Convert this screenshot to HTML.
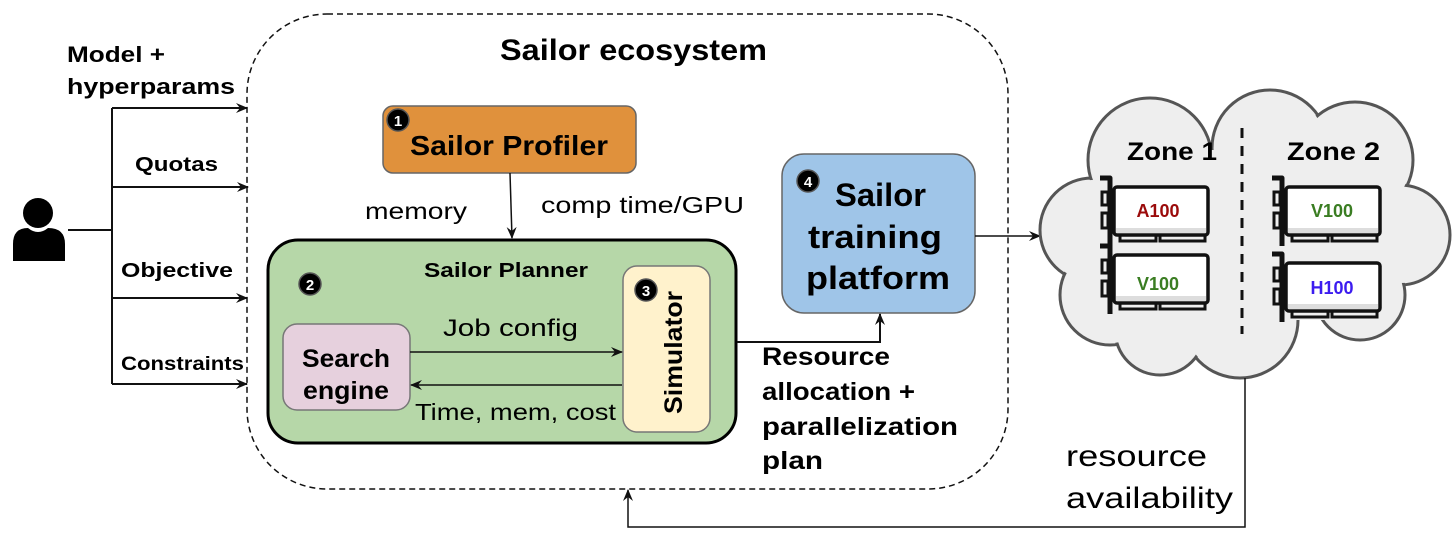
<!DOCTYPE html>
<html><head><meta charset="utf-8"><style>
html,body{margin:0;padding:0;background:#fff;}
svg{display:block;}
text{font-family:"Liberation Sans",sans-serif;}
.b{font-weight:bold;}
</style></head><body>
<svg width="1454" height="545" viewBox="0 0 1454 545" xmlns="http://www.w3.org/2000/svg">
<defs>
<marker id="ar" markerWidth="12" markerHeight="10" refX="11" refY="5" orient="auto" markerUnits="userSpaceOnUse">
<path d="M0,0 L12,5 L0,10 L4,5 Z" fill="#111"/>
</marker>
<g id="gpu">
<path d="M0,2 L10,2 L10,70" fill="none" stroke="#111" stroke-width="5" stroke-linejoin="round"/>
<rect x="2" y="16" width="6" height="13" fill="none" stroke="#111" stroke-width="3"/>
<rect x="2" y="37" width="6" height="15" fill="none" stroke="#111" stroke-width="3"/>
<rect x="14" y="11" width="94" height="48" rx="3" fill="#fff" stroke="#111" stroke-width="3.5"/>
<rect x="16" y="52" width="90" height="5" fill="#ddd"/>
<rect x="20" y="59" width="36" height="6" fill="none" stroke="#111" stroke-width="3"/>
<rect x="60" y="59" width="45" height="6" fill="none" stroke="#111" stroke-width="3"/>
</g>
</defs>

<rect x="247" y="14" width="761" height="475" rx="80" fill="none" stroke="#111" stroke-width="1.5" stroke-dasharray="6,4"/>
<text x="500" y="60" class="b" font-size="30" textLength="267" lengthAdjust="spacingAndGlyphs">Sailor ecosystem</text>

<circle cx="38" cy="213" r="15" fill="#000"/>
<path d="M13,261 L13,244 Q13,228 28,228 Q38,236 48,228 Q65,228 65,244 L65,261 Z" fill="#000"/>
<path d="M68,230 L112,230 M112,108 L112,384" stroke="#111" stroke-width="2" fill="none"/>
<g stroke="#111" stroke-width="2" marker-end="url(#ar)">
<line x1="112" y1="108" x2="247" y2="108"/>
<line x1="112" y1="187" x2="248" y2="187"/>
<line x1="112" y1="298" x2="247" y2="298"/>
<line x1="112" y1="384" x2="247" y2="384"/>
</g>
<text x="67" y="62" class="b" font-size="22" textLength="98" lengthAdjust="spacingAndGlyphs">Model +</text>
<text x="67" y="94" class="b" font-size="22" textLength="168" lengthAdjust="spacingAndGlyphs">hyperparams</text>
<text x="135" y="171" class="b" font-size="20" textLength="83" lengthAdjust="spacingAndGlyphs">Quotas</text>
<text x="121" y="277" class="b" font-size="20" textLength="112" lengthAdjust="spacingAndGlyphs">Objective</text>
<text x="121" y="370" class="b" font-size="19" textLength="123" lengthAdjust="spacingAndGlyphs">Constraints</text>

<rect x="383" y="106" width="253" height="67" rx="10" fill="#e0913c" stroke="#666" stroke-width="1.5"/>
<circle cx="398" cy="120" r="11" fill="#000" stroke="#555" stroke-width="1.5"/>
<text x="398" y="126" class="b" font-size="15" fill="#fff" text-anchor="middle">1</text>
<text x="410" y="155" class="b" font-size="28" textLength="198" lengthAdjust="spacingAndGlyphs">Sailor Profiler</text>
<line x1="510" y1="173" x2="512" y2="238" stroke="#111" stroke-width="1.5" marker-end="url(#ar)"/>
<text x="365" y="219" font-size="23" textLength="102" lengthAdjust="spacingAndGlyphs">memory</text>
<text x="541" y="213" font-size="23" textLength="203" lengthAdjust="spacingAndGlyphs">comp time/GPU</text>

<rect x="268" y="240" width="468" height="203" rx="30" fill="#b6d7a8" stroke="#000" stroke-width="3"/>
<text x="424" y="277" class="b" font-size="20" textLength="164" lengthAdjust="spacingAndGlyphs">Sailor Planner</text>
<circle cx="310" cy="284" r="11" fill="#000" stroke="#555" stroke-width="1.5"/>
<text x="310" y="290" class="b" font-size="15" fill="#fff" text-anchor="middle">2</text>
<rect x="283" y="324" width="127" height="86" rx="14" fill="#e6d0dd" stroke="#777" stroke-width="1.5"/>
<text x="302" y="367" class="b" font-size="25" textLength="88" lengthAdjust="spacingAndGlyphs">Search</text>
<text x="303" y="399" class="b" font-size="25" textLength="86" lengthAdjust="spacingAndGlyphs">engine</text>
<rect x="623" y="266" width="87" height="166" rx="14" fill="#fff2cc" stroke="#777" stroke-width="1.5"/>
<circle cx="646" cy="290" r="11" fill="#000" stroke="#555" stroke-width="1.5"/>
<text x="646" y="296" class="b" font-size="15" fill="#fff" text-anchor="middle">3</text>
<text transform="translate(682,414) rotate(-90)" class="b" font-size="25" textLength="123" lengthAdjust="spacingAndGlyphs">Simulator</text>
<line x1="410" y1="352" x2="622" y2="352" stroke="#111" stroke-width="1.5" marker-end="url(#ar)"/>
<line x1="622" y1="385" x2="411" y2="385" stroke="#111" stroke-width="1.5" marker-end="url(#ar)"/>
<text x="443" y="336" font-size="24" textLength="135" lengthAdjust="spacingAndGlyphs">Job config</text>
<text x="415" y="420" font-size="23" textLength="201" lengthAdjust="spacingAndGlyphs">Time, mem, cost</text>

<rect x="782" y="154" width="193" height="159" rx="22" fill="#9fc5e8" stroke="#666" stroke-width="1.5"/>
<circle cx="808" cy="181" r="11" fill="#000" stroke="#555" stroke-width="1.5"/>
<text x="808" y="187" class="b" font-size="15" fill="#fff" text-anchor="middle">4</text>
<text x="835" y="206" class="b" font-size="32" textLength="91" lengthAdjust="spacingAndGlyphs">Sailor</text>
<text x="808" y="248" class="b" font-size="32" textLength="134" lengthAdjust="spacingAndGlyphs">training</text>
<text x="806" y="289" class="b" font-size="32" textLength="144" lengthAdjust="spacingAndGlyphs">platform</text>
<path d="M737,342 L880,342 L880,314" fill="none" stroke="#111" stroke-width="2" marker-end="url(#ar)"/>
<text x="762" y="365" class="b" font-size="25" textLength="128" lengthAdjust="spacingAndGlyphs">Resource</text>
<text x="762" y="400" class="b" font-size="25" textLength="153" lengthAdjust="spacingAndGlyphs">allocation +</text>
<text x="762" y="435" class="b" font-size="25" textLength="196" lengthAdjust="spacingAndGlyphs">parallelization</text>
<text x="762" y="469" class="b" font-size="25" textLength="61" lengthAdjust="spacingAndGlyphs">plan</text>
<line x1="975" y1="236" x2="1040" y2="236" stroke="#111" stroke-width="1.5" marker-end="url(#ar)"/>

<g fill="#eee" stroke="#555" stroke-width="3">
<circle cx="1092" cy="230" r="52"/>
<circle cx="1110" cy="295" r="50"/>
<circle cx="1150" cy="160" r="62"/>
<circle cx="1270" cy="148" r="58"/>
<circle cx="1355" cy="160" r="58"/>
<circle cx="1400" cy="235" r="50"/>
<circle cx="1360" cy="295" r="45"/>
<circle cx="1240" cy="320" r="58"/>
<circle cx="1160" cy="330" r="45"/>
</g>
<g fill="#eee">
<circle cx="1092" cy="230" r="50"/>
<circle cx="1110" cy="295" r="48"/>
<circle cx="1150" cy="160" r="60"/>
<circle cx="1270" cy="148" r="56"/>
<circle cx="1355" cy="160" r="56"/>
<circle cx="1400" cy="235" r="48"/>
<circle cx="1360" cy="295" r="43"/>
<circle cx="1240" cy="320" r="56"/>
<circle cx="1160" cy="330" r="43"/>
<rect x="1100" y="150" width="290" height="170"/>
</g>
<line x1="1242" y1="128" x2="1242" y2="334" stroke="#111" stroke-width="3" stroke-dasharray="10,8"/>
<text x="1127" y="160" class="b" font-size="25" textLength="90" lengthAdjust="spacingAndGlyphs">Zone 1</text>
<text x="1287" y="160" class="b" font-size="25" textLength="93" lengthAdjust="spacingAndGlyphs">Zone 2</text>
<use href="#gpu" x="1100" y="176"/>
<use href="#gpu" x="1100" y="244"/>
<use href="#gpu" x="1272" y="176"/>
<use href="#gpu" x="1272" y="252"/>
<text x="1158" y="217" class="b" font-size="18" fill="#9b0b0b" text-anchor="middle">A100</text>
<text x="1158" y="290" class="b" font-size="18" fill="#3a7d22" text-anchor="middle">V100</text>
<text x="1332" y="217" class="b" font-size="18" fill="#3a7d22" text-anchor="middle">V100</text>
<text x="1332" y="294" class="b" font-size="18" fill="#3c1cf0" text-anchor="middle">H100</text>

<path d="M1245,378 L1245,527 L628,527 L628,490" fill="none" stroke="#111" stroke-width="1.5" marker-end="url(#ar)"/>
<text x="1066" y="466" font-size="30" textLength="141" lengthAdjust="spacingAndGlyphs">resource</text>
<text x="1066" y="508" font-size="30" textLength="167" lengthAdjust="spacingAndGlyphs">availability</text>
</svg>
</body></html>
